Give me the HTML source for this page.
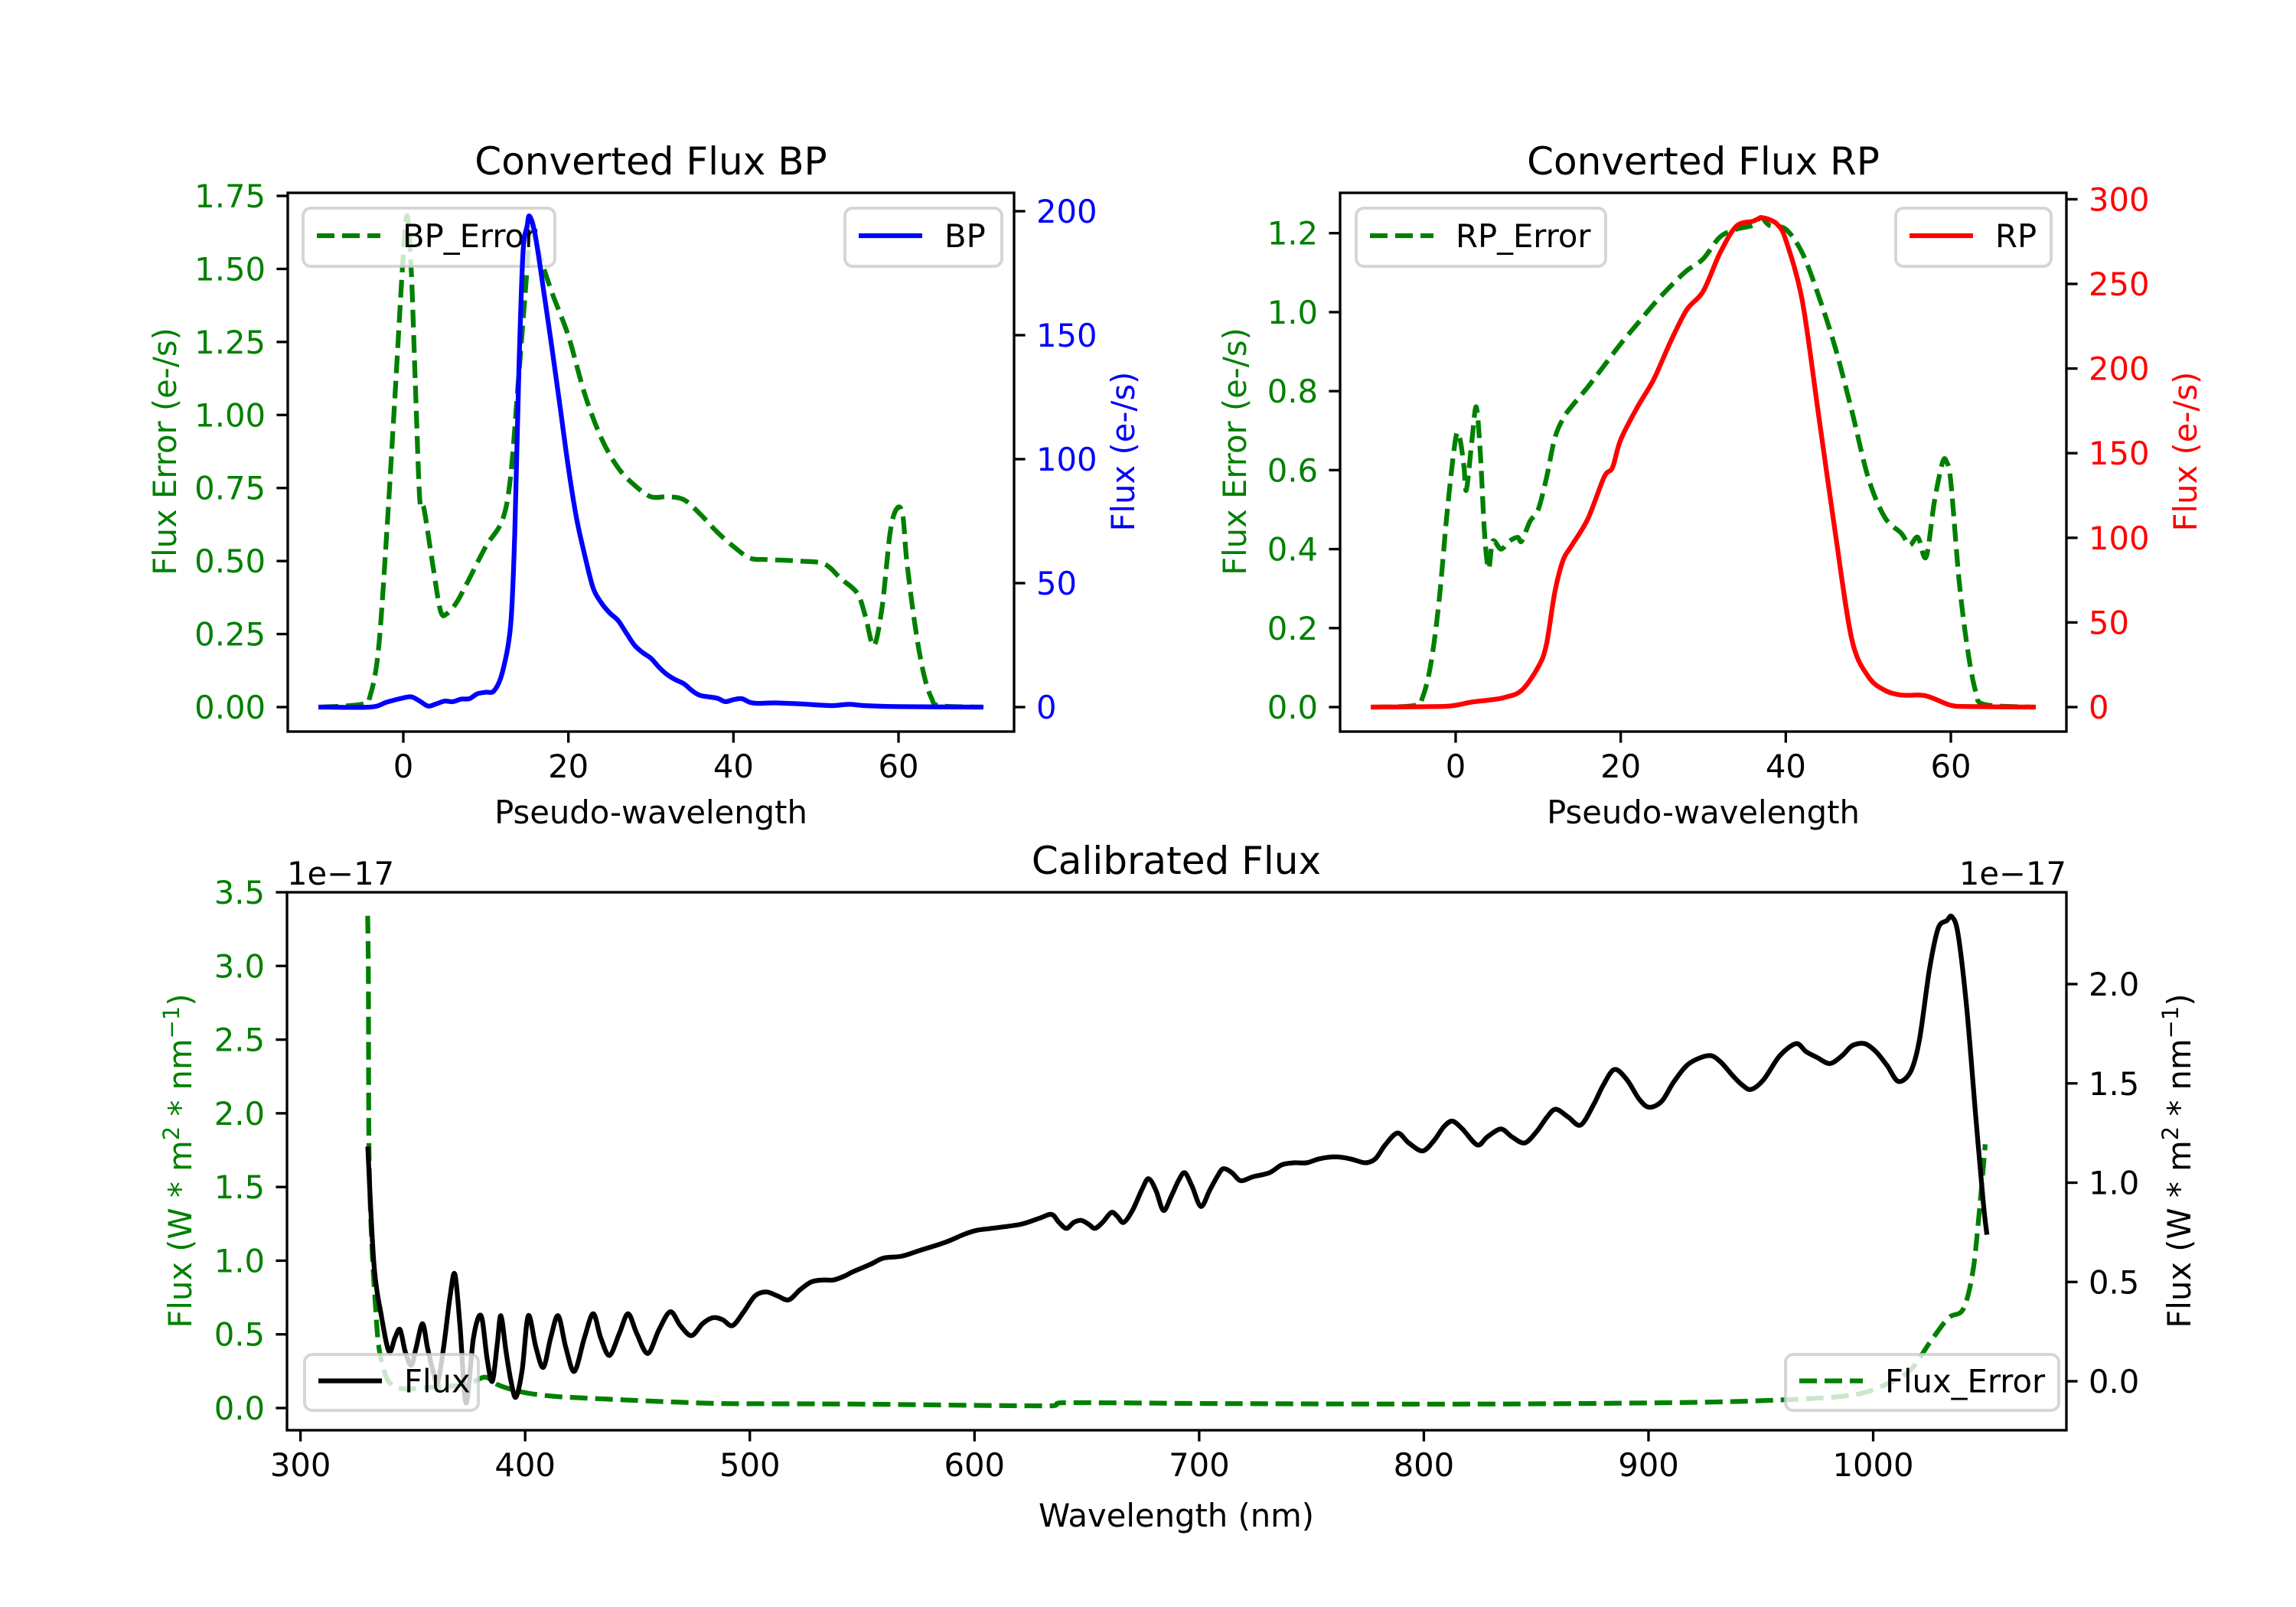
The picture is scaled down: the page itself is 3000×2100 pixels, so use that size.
<!DOCTYPE html>
<html><head><meta charset="utf-8"><style>
html,body{margin:0;padding:0;background:#fff;}
svg{display:block;font-family:"DejaVu Sans","Liberation Sans",sans-serif;}
</style></head><body>
<svg id="fig" xmlns="http://www.w3.org/2000/svg" width="3000" height="2100" viewBox="0 0 3000 2100">
<rect width="3000" height="2100" fill="#fff"/>
</svg>
<script>
// ---------- BP data ----------
const bpErrX = [-10,-5,-4,-3,-2,-1,0,0.5,1,1.5,2,2.5,3.5,4.5,5.3,6.5,8,10,12,13,14,15,15.5,16.5,18,20,22,24,26,28,30,32,34,36,38,40,42,44,48,51,53,55,56,57,58,59,59.8,60.5,61,62,63,64,65,70];
const bpErrY = [0,0.01,0.04,0.2,0.6,1.07,1.55,1.68,1.47,1.07,0.71,0.68,0.5,0.33,0.32,0.36,0.44,0.55,0.64,0.79,1.14,1.5,1.67,1.55,1.42,1.27,1.07,0.92,0.82,0.76,0.72,0.72,0.71,0.66,0.6,0.55,0.51,0.505,0.5,0.49,0.44,0.39,0.31,0.21,0.34,0.6,0.68,0.66,0.5,0.28,0.12,0.03,0.005,0];
const bpX = [-10,-4,-2,0,1,2,3,4,5,6,7,8,9,10,11,12,13,13.5,14,14.5,15,15.3,16,17,18,19,20,21,22,23,24,25,26,27,28,29,30,31,32,33,34,35,36,38,39,40,41,42,43,45,48,50,52,54,56,60,70];
const bpY = [0,0,2,3.7,4.1,2.4,0.4,1.3,2.4,2.2,3.2,3.4,5.4,6,6.6,14,33,70,136,183,194,198,190,168,145,121,96.5,76,61,48,42,38,35,30,25,22,19.7,16,13,11,9.4,6.6,4.7,3.6,2.2,3,3.4,1.9,1.5,1.7,1.3,0.9,0.6,1.1,0.6,0.2,0];
// ---------- RP data ----------
const rpErrX = [-10,-5,-4,-3,-2,-1,0,0.5,1,1.3,2,2.5,3,3.5,4,4.5,5.5,6.5,7.5,8,9,10,11,12,13,14,16,18,20,22,24,26,28,30,32,34,36,37,38,40,42,44,46,48,50,52,54,55,56,57,58,59,59.5,60,61,62,63,64,70];
const rpErrY = [0,0.004,0.025,0.11,0.27,0.5,0.68,0.68,0.61,0.55,0.68,0.76,0.64,0.44,0.35,0.42,0.4,0.42,0.43,0.42,0.47,0.5,0.58,0.68,0.73,0.76,0.81,0.865,0.92,0.97,1.02,1.065,1.105,1.135,1.19,1.21,1.22,1.24,1.22,1.21,1.15,1.04,0.91,0.75,0.58,0.48,0.44,0.41,0.43,0.38,0.52,0.62,0.62,0.57,0.32,0.15,0.04,0.007,0];
const rpX = [-10,-2,0,2,4,6,8,10,11,12,13,14,16,18,19,20,22,24,26,28,30,32,34,36,37,38,39,40,42,44,46,48,50,52,54,56,57,58,60,62,70];
const rpY = [0,0.3,1.1,3,4.1,5.8,9.9,23.6,37,67.5,86.6,95,111,136,141.5,158,177,193.6,215.5,234.7,245.7,268,284,287,289,288,285,276,240,171.6,103,40,18,9.9,7.1,7.1,6.6,4.9,1.1,0.3,0];
// ---------- Calibrated flux data (units of 1e-17) ----------
const wl = [330,332.7,336,339.4,342.1,344.3,346.6,349.3,351.5,354.3,356.5,358.8,361,363.7,366.5,368.7,371,373.7,377,380.4,383.1,385.4,387.6,389.2,391.5,393.7,395.9,398.7,401.4,404.8,408.1,411.4,414.7,418.1,421.9,426.4,430.3,433.6,437.5,441.9,445.8,449.7,454.6,459.6,464.6,469.1,474,479,483.5,487.9,492.3,497.3,502.3,507.3,512.3,517.3,522.3,527.3,532.2,537.2,542.2,
545.6,553.9,559.4,567.7,576,587.1,595.4,601,607.6,620.4,628.7,634.3,637.6,640.9,644.2,647.5,650.9,653.6,657,660.9,663.6,666.4,670.3,674.7,677.5,680.8,684.1,687.5,690.8,693.6,696.9,700.8,704.6,708,710.7,714.6,718.5,724,731.3,736.8,742.3,747.9,753.4,760.6,767.3,773.9,778.4,782.8,788.3,793.3,799.4,804.4,808.8,812.7,817.2,823.8,828.2,834.3,839.3,844.9,850.4,854.8,858.7,864.3,869.8,875.4,879.8,884.8,890.3,895.9,900.3,905.9,911.4,918.1,926.9,931.9,937.4,941.9,945.8,951.3,958.5,965.7,970.1,975.1,980.7,986.2,990.7,996.2,1001.2,1006.2,1011.2,1016.7,1020.6,1025,1028.9,1032.8,1035,1037.8,1041.7,1045.6,1049,1050.5];
const flux = [1.17,0.59,0.33,0.15,0.22,0.26,0.15,0.08,0.17,0.29,0.17,0.06,-0.01,0.17,0.42,0.54,0.28,-0.11,0.22,0.33,0.11,0.0,0.19,0.33,0.15,0.0,-0.08,0.06,0.33,0.17,0.07,0.22,0.33,0.17,0.05,0.22,0.34,0.22,0.13,0.24,0.34,0.24,0.14,0.26,0.35,0.28,0.23,0.29,0.32,0.31,0.28,0.35,0.43,0.45,0.43,0.41,0.46,0.50,0.51,0.51,0.53,
0.55,0.59,0.62,0.63,0.66,0.70,0.74,0.76,0.77,0.79,0.82,0.84,0.80,0.77,0.80,0.81,0.79,0.77,0.80,0.85,0.83,0.80,0.86,0.97,1.02,0.96,0.86,0.93,1.01,1.05,0.98,0.88,0.96,1.03,1.07,1.05,1.01,1.03,1.05,1.09,1.10,1.10,1.12,1.13,1.12,1.10,1.12,1.19,1.25,1.20,1.16,1.21,1.28,1.31,1.27,1.19,1.23,1.27,1.23,1.20,1.26,1.33,1.37,1.33,1.29,1.39,1.49,1.57,1.52,1.42,1.38,1.41,1.51,1.60,1.64,1.61,1.54,1.49,1.47,1.52,1.64,1.70,1.66,1.63,1.60,1.64,1.69,1.70,1.66,1.59,1.51,1.56,1.72,2.07,2.28,2.32,2.34,2.25,1.87,1.34,0.90,0.75];
const errWl = [329.9,330.2,330.5,331.6,333.3,334.9,337.7,340.5,346,357.1,373.7,382,387.6,393.1,401.4,412.5,423.6,445.8,468,490.1,545.6,634.3,638.7,711.8,822.7,905.9,950.2,989,1005.6,1016.7,1025,1033.4,1040,1044.3,1047.1,1049.9];
const fluxErr = [3.34,2.95,1.76,1.16,0.71,0.41,0.23,0.16,0.13,0.14,0.16,0.21,0.16,0.13,0.1,0.08,0.07,0.054,0.04,0.03,0.027,0.015,0.036,0.03,0.027,0.036,0.05,0.084,0.16,0.26,0.44,0.61,0.67,0.92,1.31,1.79];
// tick labels
const bpXTicks=[0,20,40,60];
const bpLTicks=[0,0.25,0.5,0.75,1.0,1.25,1.5,1.75];
const bpRTicks=[0,50,100,150,200];
const rpLTicks=[0,0.2,0.4,0.6,0.8,1.0,1.2];
const rpRTicks=[0,50,100,150,200,250,300];
const calXTicks=[300,400,500,600,700,800,900,1000];
const calLTicks=[0,0.5,1.0,1.5,2.0,2.5,3.0,3.5];
const calRTicks=[0,0.5,1.0,1.5,2.0];

const NS='http://www.w3.org/2000/svg';
const svg=document.getElementById('fig');
function el(tag,attrs,parent,text){const e=document.createElementNS(NS,tag);for(const k in attrs)e.setAttribute(k,attrs[k]);if(text!==undefined)e.textContent=text;(parent||svg).appendChild(e);return e;}
function lin(d0,d1,p0,p1){return v=>p0+(v-d0)/(d1-d0)*(p1-p0);}
const DASH='23,10';
function line(xs,ys,fx,fy,color,dash,name,parent){
  const P=xs.map((x,i)=>[fx(x),fy(ys[i])]);
  let d='M'+P[0][0].toFixed(1)+','+P[0][1].toFixed(1);
  const k=0.16;
  for(let i=0;i<P.length-1;i++){
    const p0=P[Math.max(i-1,0)],p1=P[i],p2=P[i+1],p3=P[Math.min(i+2,P.length-1)];
    const c1=[p1[0]+(p2[0]-p0[0])*k,p1[1]+(p2[1]-p0[1])*k];
    const c2=[p2[0]-(p3[0]-p1[0])*k,p2[1]-(p3[1]-p1[1])*k];
    // keep control x monotonic inside segment
    c1[0]=Math.min(Math.max(c1[0],p1[0]),p2[0]);c2[0]=Math.min(Math.max(c2[0],p1[0]),p2[0]);
    d+='C'+c1[0].toFixed(1)+','+c1[1].toFixed(1)+' '+c2[0].toFixed(1)+','+c2[1].toFixed(1)+' '+p2[0].toFixed(1)+','+p2[1].toFixed(1);
  }
  const p=el('path',{d:d,fill:'none',stroke:color,'stroke-width':6.25,'stroke-linejoin':'round','stroke-linecap':dash?'butt':'square'},parent);
  if(dash)p.setAttribute('stroke-dasharray',DASH);
  
  
  return p;
}
function txt(x,y,s,size,color,anchor,name,rot){
  const t=el('text',{x:x,y:y,'font-size':size,fill:color,'text-anchor':anchor||'middle'},svg,s);
  if(rot)t.setAttribute('transform','rotate(-90 '+x+' '+y+')');
  
  
  return t;
}
const TS=41.7, TT=50;
function xTicks(ticks,fx,yb,fmt,name){
  ticks.forEach(v=>{const x=fx(v);
    const l=el('line',{x1:x,y1:yb,x2:x,y2:yb+14.6,stroke:'#000','stroke-width':3.33});
    
    txt(x,yb+29+31,fmt(v),TS,'#000','middle',name+'-label');});
}
function yTicks(ticks,fy,xs,side,color,fmt,name){
  ticks.forEach(v=>{const y=fy(v);const dx=side==='l'?-14.6:14.6;
    const l=el('line',{x1:xs,y1:y,x2:xs+dx,y2:y,stroke:'#000','stroke-width':3.33});
    
    txt(side==='l'?xs-29:xs+29,y+15,fmt(v),TS,color,side==='l'?'end':'start',name+'-label');});
}
function frame(x0,y0,x1,y1,name){
  const r=el('rect',{x:x0,y:y0,width:x1-x0,height:y1-y0,fill:'none',stroke:'#000','stroke-width':3.33});
  
}
function legend(x0,y0,x1,y1,color,dash,label,name){
  const g=el('g',{});
  
  
  el('rect',{x:x0,y:y0,width:x1-x0,height:y1-y0,rx:10,fill:'rgba(255,255,255,0.8)',stroke:'rgba(204,204,204,0.8)','stroke-width':4},g);
  const ly=(y0+y1)/2-2;
  const l=el('line',{x1:x0+18,y1:ly,x2:x0+101,y2:ly,stroke:color,'stroke-width':6.25},g);
  if(dash)l.setAttribute('stroke-dasharray',DASH);
  el('text',{x:x0+130,y:ly+15,'font-size':TS,fill:'#000'},g,label);
}
const f2=v=>v.toFixed(2), f1=v=>v.toFixed(1), f0=v=>String(v);

// ===== BP panel =====
const bx0=376,bx1=1325,ty0=252,ty1=956;
const bpFx=lin(-14,74,bx0,bx1), bpFyL=lin(0,1.75,924,256), bpFyR=lin(0,200,924,276);
const clipBP=el('clipPath',{id:'cbp'});el('rect',{x:bx0,y:ty0,width:bx1-bx0,height:ty1-ty0},clipBP);
const gBP1=el('g',{'clip-path':'url(#cbp)'});
line(bpErrX,bpErrY,bpFx,bpFyL,'#008000',true,'bp-error-line',gBP1);
legend(396,272,725,348,'#008000',true,'BP_Error','bp-error-legend');
const gBP2=el('g',{'clip-path':'url(#cbp)'});
line(bpX,bpY,bpFx,bpFyR,'#0000ff',false,'bp-flux-line',gBP2);
legend(1104,272,1309,348,'#0000ff',false,'BP','bp-legend');
frame(bx0,ty0,bx1,ty1,'bp-axes-frame');
xTicks(bpXTicks,bpFx,ty1,f0,'bp-x-tick');
yTicks(bpLTicks,bpFyL,bx0,'l','#008000',f2,'bp-left-y-tick');
yTicks(bpRTicks,bpFyR,bx1,'r','#0000ff',f0,'bp-right-y-tick');
txt((bx0+bx1)/2,228,'Converted Flux BP',TT,'#000','middle','bp-title');
txt((bx0+bx1)/2,1076,'Pseudo-wavelength',TS,'#000','middle','bp-x-axis-title');
txt(230,590,'Flux Error (e-/s)',TS,'#008000','middle','bp-left-y-axis-title',true);
txt(1482,590,'Flux (e-/s)',TS,'#0000ff','middle','bp-right-y-axis-title',true);

// ===== RP panel =====
const rx0=1751,rx1=2700;
const rpFx=lin(-14,74,rx0,rx1), rpFyL=lin(0,1.2,924,304.7), rpFyR=lin(0,300,924,260.4);
const clipRP=el('clipPath',{id:'crp'});el('rect',{x:rx0,y:ty0,width:rx1-rx0,height:ty1-ty0},clipRP);
const gRP1=el('g',{'clip-path':'url(#crp)'});
line(rpErrX,rpErrY,rpFx,rpFyL,'#008000',true,'rp-error-line',gRP1);
legend(1772,272,2098,348,'#008000',true,'RP_Error','rp-error-legend');
const gRP2=el('g',{'clip-path':'url(#crp)'});
line(rpX,rpY,rpFx,rpFyR,'#ff0000',false,'rp-flux-line',gRP2);
legend(2477,272,2680,348,'#ff0000',false,'RP','rp-legend');
frame(rx0,ty0,rx1,ty1,'rp-axes-frame');
xTicks(bpXTicks,rpFx,ty1,f0,'rp-x-tick');
yTicks(rpLTicks,rpFyL,rx0,'l','#008000',f1,'rp-left-y-tick');
yTicks(rpRTicks,rpFyR,rx1,'r','#ff0000',f0,'rp-right-y-tick');
txt((rx0+rx1)/2,228,'Converted Flux RP',TT,'#000','middle','rp-title');
txt((rx0+rx1)/2,1076,'Pseudo-wavelength',TS,'#000','middle','rp-x-axis-title');
txt(1628,590,'Flux Error (e-/s)',TS,'#008000','middle','rp-left-y-axis-title',true);
txt(2870,590,'Flux (e-/s)',TS,'#ff0000','middle','rp-right-y-axis-title',true);

// ===== Calibrated panel =====
const cx0=375,cx1=2700,cy0=1166,cy1=1869;
const cFx=lin(294,1086,cx0,cx1), cFyL=lin(0,3.5,1840,1166), cFyR=lin(0,2.0,1805,1286);
const clipC=el('clipPath',{id:'cc'});el('rect',{x:cx0,y:cy0,width:cx1-cx0,height:cy1-cy0},clipC);
const gC=el('g',{'clip-path':'url(#cc)'});
line(errWl,fluxErr,cFx,cFyL,'#008000',true,'flux-error-line',gC);
line(wl,flux,cFx,cFyR,'#000000',false,'flux-line',gC);
legend(398,1770,625,1843,'#000',false,'Flux','flux-legend');
legend(2333,1770,2690,1843,'#008000',true,'Flux_Error','flux-error-legend');
frame(cx0,cy0,cx1,cy1,'calibrated-axes-frame');
xTicks(calXTicks,cFx,cy1,f0,'cal-x-tick');
yTicks(calLTicks,cFyL,cx0,'l','#008000',f1,'cal-left-y-tick');
yTicks(calRTicks,cFyR,cx1,'r','#000',f1,'cal-right-y-tick');
txt(1537,1142,'Calibrated Flux',TT,'#000','middle','calibrated-title');
txt(1537,1995,'Wavelength (nm)',TS,'#000','middle','cal-x-axis-title');
txt(375,1156,'1e\u221217',TS,'#000','start','left-offset-text');
txt(2700,1156,'1e\u221217',TS,'#000','end','right-offset-text');
const lt=txt(250,1517,'',TS,'#008000','middle','cal-left-y-axis-title',true);
lt.innerHTML='Flux (W * m<tspan dy="-16" font-size="29">2</tspan><tspan dy="16"> * nm</tspan><tspan dy="-16" font-size="29">\u22121</tspan><tspan dy="16">)</tspan>';
const rt=txt(2862,1517,'',TS,'#000','middle','cal-right-y-axis-title',true);
rt.innerHTML='Flux (W * m<tspan dy="-16" font-size="29">2</tspan><tspan dy="16"> * nm</tspan><tspan dy="-16" font-size="29">\u22121</tspan><tspan dy="16">)</tspan>';
</script>
</body></html>
